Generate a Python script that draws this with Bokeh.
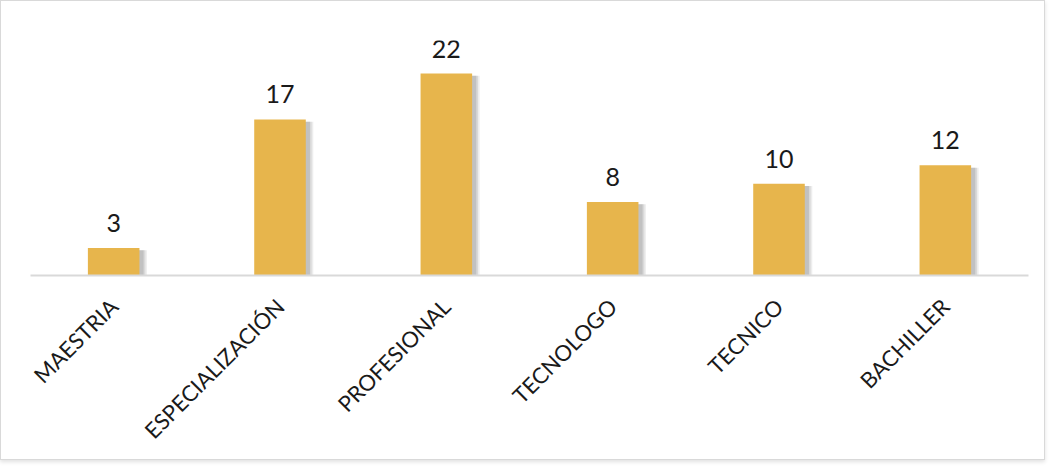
from bokeh.plotting import figure
from bokeh.models import ColumnDataSource, LabelSet, FactorRange, Range1d
from bokeh.transform import dodge
from bokeh.core.properties import value
from bokeh.embed import file_html
from bokeh.resources import INLINE
import math

categories = ["MAESTRIA", "ESPECIALIZACIÓN", "PROFESIONAL", "TECNOLOGO", "TECNICO", "BACHILLER"]
values = [3, 17, 22, 8, 10, 12]
labels = [str(v) for v in values]

src = ColumnDataSource(dict(cat=categories, val=values, lab=labels,
                            shadow_top=[v - 0.25 for v in values]))

p = figure(x_range=FactorRange(*categories), y_range=Range1d(0, 25.6),
           width=1045, height=460, output_backend="svg", toolbar_location=None,
           min_border_left=29, min_border_right=18, min_border_top=39, min_border_bottom=186)
p.styles = {"border": "1px solid #d9d9d9", "box-shadow": "0px 2px 4px rgba(0,0,0,0.12)"}

# soft shadow layers
for d, a in [(0.045, 0.12), (0.035, 0.16), (0.025, 0.22)]:
    p.vbar(x=dodge("cat", d, range=p.x_range), top="shadow_top", bottom=-0.35, width=0.31,
           source=src, fill_color="#6f6f6f", fill_alpha=a, line_color=None)

p.vbar(x="cat", top="val", width=0.31, source=src, fill_color="#E7B54C", line_color=None)

lbl = LabelSet(x="cat", y="val", text="lab", source=src, text_align="center",
               text_baseline="bottom", y_offset=16, text_font=value("Lato"),
               text_font_size="25px", text_color="#1a1a1a")
p.add_layout(lbl)

p.yaxis.visible = False
p.xgrid.grid_line_color = None
p.ygrid.grid_line_color = None
p.outline_line_color = None
p.xaxis.axis_line_color = "#d9d9d9"
p.xaxis.axis_line_width = 2
p.xaxis.major_tick_line_color = None
p.xaxis.minor_tick_line_color = None
p.xaxis.major_label_orientation = math.pi / 4
p.xaxis.major_label_text_font = "Lato"
p.xaxis.major_label_text_font_size = "22px"
p.xaxis.major_label_text_color = "#1a1a1a"
p.xaxis.major_label_standoff = 21

open("out.html", "w").write(file_html(p, INLINE))
